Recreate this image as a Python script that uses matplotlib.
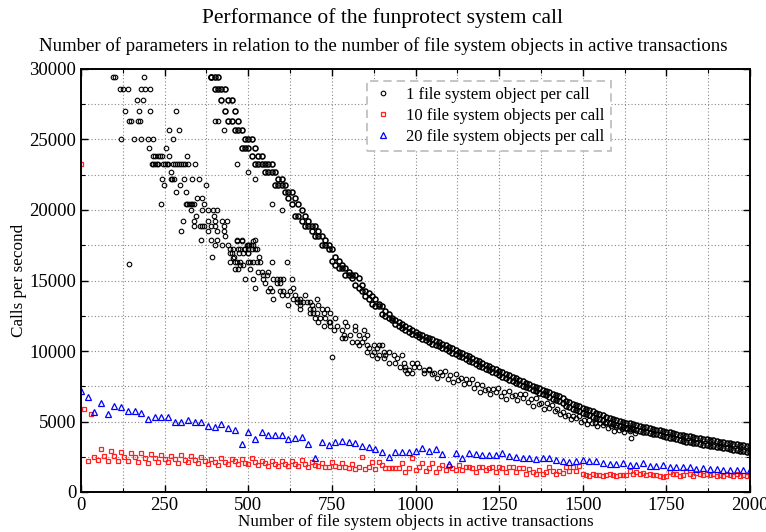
import numpy as np
import matplotlib
matplotlib.use("Agg")
import matplotlib.pyplot as plt
from matplotlib.ticker import MultipleLocator

plt.rcParams['font.family'] = ['Liberation Serif', 'DejaVu Serif']

# ---- 20 file system objects per call (one run every 20 objects) ----
blue_x = np.arange(0, 2001, 20)
blue_y = [7190, 6710, 5700, 6340, 5530, 6100, 6000, 5770, 5770, 5580,
          5150, 5300, 5300, 5300, 4940, 4940, 5080, 4940, 4940, 4680,
          4630, 4820, 4510, 4400, 3400, 4250, 3780, 4230, 4020, 4020,
          4020, 3730, 3800, 3880, 3380, 2390, 3520, 3310, 3520, 3640,
          3570, 3500, 3290, 3210, 3050, 2860, 2500, 2860, 2810, 2810,
          2910, 3100, 2910, 3050, 2670, 1990, 2740, 2430, 2740, 2670,
          2620, 2620, 2620, 2740, 2550, 2460, 2430, 2430, 2340, 2390,
          2390, 2270, 2180, 2100, 2180, 2240, 2180, 2220, 2030, 1990,
          1990, 2030, 1915, 1915, 2080, 1840, 1840, 1915, 1750, 1750,
          1750, 1750, 1610, 1700, 1660, 1660, 1560, 1560, 1560, 1560,
          1560]

# ---- 10 file system objects per call (one run every 10 objects) ----
red_x = np.arange(0, 2001, 10)
red_y = [23256, 5890, 2220, 5510, 2460, 2270, 3030, 2550, 2220, 2930,
         2580, 2220, 2840, 2500, 2200, 2770, 2500, 2150, 2770, 2430,
         2060, 2700, 2390, 2130, 2650, 2360, 2150, 2580, 2340, 2080,
         2650, 2290, 2150, 2530, 2250, 2030, 2480, 2200, 2010, 2360,
         2150, 1940, 2410, 2150, 2010, 2340, 2200, 2010, 2340, 2080,
         1960, 2390, 2100, 1910, 2220, 2030, 1840, 2200, 2010, 1820,
         2220, 1960, 1870, 2200, 1960, 1840, 2250, 1960, 1800, 2150,
         1910, 1840, 2080, 1800, 1750, 2100, 1840, 1750, 2030, 1770,
         1730, 1960, 1630, 1750, 2480, 1630, 1770, 2150, 1630, 2150,
         1910, 1680, 1700, 1700, 1700, 1680, 2080, 1420, 1680, 2430,
         1560, 1750, 2030, 1490, 1680, 2030, 1450, 1680, 1910, 1560,
         1870, 1680, 1560, 1910, 1560, 1750, 1800, 1680, 1450, 1800,
         1800, 1560, 1680, 1750, 1450, 1750, 1680, 1450, 1750, 1800,
         1400, 1680, 1680, 1280, 1610, 1450, 1280, 1560, 1280, 1450,
         1750, 1510, 1280, 1510, 1380, 1750, 1510, 1750, 1510, 1870,
         1280, 1220, 1160, 1280, 1180, 1220, 1160, 1200, 1250, 1200,
         1160, 1200, 1220, 1180, 1510, 1300, 1420, 1250, 1380, 1200,
         1250, 1180, 1200, 1160, 1090, 1140, 1400, 1250, 1300, 1160,
         1200, 1500, 1300, 1160, 1350, 1250, 1200, 1300, 1180, 1250,
         1140, 1220, 1160, 1300, 1200, 1160, 1250, 1120, 1180, 1140,
         1140]

# ---- 1 file system object per call ----
# main (upper) band, upper and lower edge every 10 objects
band_x = np.arange(390, 2001, 10)
band_hi = [29411, 29411, 29411, 28571, 28571, 27778, 27778, 27027, 26316, 25641,
           25000, 25000, 25000, 24390, 23810, 23810, 23256, 23256, 23256, 22727,
           22222, 22222, 21739, 21277, 21277, 20833, 20408, 20000, 19608, 19231,
           18868, 18868, 18519, 18182, 17857, 17544, 17241, 16667, 16393, 16129,
           15873, 15625, 15385, 15385, 15152, 14706, 14286, 14085, 13889, 13699,
           13333, 13158, 12821, 12658, 12346, 12195, 12048, 11905, 11765, 11628,
           11494, 11364, 11236, 11111, 11000, 10940, 10830, 10720, 10620, 10510,
           10410, 10300, 10180, 10070, 9950, 9840, 9720, 9610, 9490, 9380,
           9260, 9150, 9040, 8930, 8820, 8710, 8600, 8490, 8380, 8270,
           8160, 8050, 7950, 7850, 7750, 7650, 7550, 7450, 7350, 7250,
           7150, 7080, 6980, 6890, 6790, 6700, 6470, 6370, 6270, 6170,
           6070, 5980, 5890, 5800, 5710, 5620, 5530, 5440, 5350, 5260,
           5180, 5100, 5040, 4980, 4920, 4860, 4800, 4740, 4690, 4630,
           4580, 4530, 4480, 4430, 4380, 4330, 4270, 4220, 4170, 4120,
           4070, 4040, 4000, 3950, 3910, 3860, 3820, 3780, 3740, 3700,
           3660, 3620, 3580, 3540, 3510, 3470, 3430, 3390, 3360, 3320,
           3290, 3250]
band_lo = [29411, 28571, 28571, 27778, 27027, 26316, 26316, 25641, 25641, 24390,
           24390, 24390, 23810, 23256, 23256, 23256, 22727, 22727, 22727, 21739,
           21739, 21739, 21277, 20833, 20408, 19608, 19608, 19231, 18868, 18868,
           18519, 18182, 18182, 17544, 17544, 17241, 16393, 16129, 15873, 15873,
           15385, 15385, 15152, 14706, 14493, 14286, 13889, 13699, 13333, 13158,
           13158, 12658, 12500, 12346, 12195, 11905, 11765, 11628, 11494, 11364,
           11236, 11111, 10989, 10870, 10750, 10640, 10530, 10420, 10320, 10210,
           10110, 10000, 9880, 9770, 9650, 9540, 9420, 9310, 9190, 9080,
           8960, 8850, 8740, 8630, 8520, 8410, 8300, 8190, 8080, 7970,
           7860, 7750, 7650, 7550, 7450, 7350, 7250, 7150, 7050, 6950,
           6850, 6720, 6620, 6530, 6430, 6340, 6100, 6000, 5900, 5810,
           5710, 5620, 5530, 5440, 5350, 5260, 5170, 5080, 4990, 4900,
           4820, 4740, 4680, 4620, 4560, 4500, 4440, 4390, 4340, 4280,
           4230, 4180, 4130, 4080, 4020, 3970, 3910, 3860, 3810, 3760,
           3710, 3620, 3580, 3530, 3490, 3440, 3400, 3360, 3320, 3280,
           3240, 3200, 3160, 3120, 3090, 3050, 3010, 2970, 2940, 2900,
           2870, 2830]

# sparse measurements below 30000 at small object counts
early_pts = [(95, 29411), (102, 29411), (188, 29411),
             (116, 28571), (126, 28571), (141, 28571), (180, 28571), (190, 28571), (207, 28571),
             (166, 27778), (184, 27778),
             (131, 27027), (174, 27027), (206, 27027), (284, 27027),
             (144, 26316), (150, 26316), (170, 26316), (176, 26316), (400, 26316), (410, 26316),
             (262, 25641), (292, 25641), (427, 25641),
             (120, 25000), (157, 25000), (178, 25000), (201, 25000), (216, 25000), (274, 25000),
             (204, 24390), (255, 24390),
             (216, 23810), (222, 23810), (229, 23810), (236, 23810), (241, 23810), (264, 23810), (318, 23810),
             (211, 23256), (216, 23256), (221, 23256), (226, 23256), (231, 23256), (246, 23256),
             (251, 23256), (256, 23256), (261, 23256), (274, 23256), (280, 23256), (286, 23256),
             (292, 23256), (298, 23256), (304, 23256), (310, 23256), (320, 23256), (341, 23256), (466, 23256),
             (269, 22727), (500, 22727),
             (243, 22222), (269, 22222), (273, 22222), (277, 22222), (308, 22222), (333, 22222),
             (353, 22222), (520, 22222),
             (248, 21739), (295, 21739), (375, 21739),
             (283, 21277), (313, 21277),
             (346, 20833), (361, 20833),
             (239, 20408), (313, 20408), (318, 20408), (323, 20408), (328, 20408), (333, 20408),
             (338, 20408), (368, 20408), (570, 20408),
             (328, 20000), (363, 20000), (381, 20000), (395, 20000), (407, 20000), (600, 20000),
             (343, 19608), (397, 19608),
             (305, 19231), (337, 19231), (380, 19231), (402, 19231), (422, 19231), (437, 19231),
             (337, 18868), (357, 18868), (362, 18868), (367, 18868), (388, 18868), (402, 18868), (427, 18868),
             (300, 18519), (380, 18519), (408, 18519), (428, 18519),
             (431, 18182),
             (359, 17857), (388, 17857), (408, 17857), (467, 17857), (482, 17857), (520, 17857),
             (400, 17544), (423, 17544), (438, 17544), (498, 17544), (508, 17544),
             (453, 17241), (476, 17241), (488, 17241), (498, 17241), (520, 17241),
             (446, 16949), (473, 16949), (498, 16949),
             (393, 16667), (456, 16667), (531, 16667),
             (143, 16170)]

# second (lower) band
lower_pts = [(465, 17825), (480, 17825), (515, 17825),
             (495, 17518), (503, 17518), (515, 17518),
             (445, 17210), (470, 17210), (490, 17210), (510, 17210), (525, 17210),
             (450, 16927), (485, 16927), (500, 16927), (455, 16620),
             (445, 16336), (460, 16336), (465, 16336), (475, 16336), (500, 16336), (505, 16336),
             (515, 16336), (525, 16336), (535, 16336), (570, 16336), (615, 16336),
             (475, 16099), (485, 16099),
             (460, 15792), (470, 15792), (505, 15792),
             (530, 15626), (540, 15626), (560, 15626),
             (545, 15390), (555, 15390),
             (490, 15082), (515, 15082), (545, 15082), (575, 15082), (585, 15082), (595, 15082),
             (605, 15082), (630, 15082),
             (550, 14799), (585, 14799), (595, 14799),
             (520, 14444), (565, 14444), (635, 14444),
             (560, 14279), (570, 14279), (595, 14279), (605, 14279), (625, 14279),
             (600, 13972), (615, 13972), (640, 13972), (670, 13972),
             (575, 13664), (635, 13664), (645, 13664), (655, 13664), (705, 13664),
             (645, 13499), (655, 13499), (665, 13499), (675, 13499), (685, 13499),
             (620, 13262), (655, 13262), (690, 13262), (710, 13262),
             (655, 12955), (685, 12955), (695, 12955), (720, 12955), (735, 12955),
             (685, 12671), (695, 12671), (705, 12671), (725, 12671), (745, 12671),
             (700, 12317), (715, 12317), (730, 12317), (760, 12317),
             (710, 12080), (740, 12080), (745, 12080), (790, 12080),
             (725, 11773), (745, 11773), (765, 11773), (795, 11773), (820, 11773),
             (755, 11489), (780, 11489), (820, 11489), (845, 11489),
             (785, 11135), (805, 11135), (830, 11135), (855, 11135),
             (780, 10898), (790, 10898), (845, 10898),
             (810, 10662), (825, 10662), (840, 10662),
             (830, 10425), (855, 10425), (875, 10425), (890, 10425), (900, 10425),
             (860, 10189), (885, 10189),
             (855, 9953), (875, 9953), (905, 9953), (920, 9953),
             (870, 9716), (890, 9716), (910, 9716), (935, 9716), (960, 9716),
             (885, 9480), (905, 9480), (945, 9480),
             (920, 9125), (940, 9125), (965, 9125), (990, 9125), (1005, 9125),
             (955, 8889), (970, 8889), (995, 8889), (1010, 8889),
             (970, 8653), (980, 8653), (1025, 8653), (1040, 8653),
             (975, 8416), (990, 8416), (1025, 8416),
             (1040, 8750), (1048, 8360), (1056, 8470), (1064, 8100), (1072, 8510), (1080, 8270),
             (1088, 8570), (1096, 8000), (1104, 8270), (1112, 7780), (1120, 8340), (1128, 7950),
             (1136, 8060), (1144, 7690), (1152, 8010), (1160, 7730), (1168, 8000), (1176, 7400),
             (1184, 7630), (1192, 7100), (1200, 7600), (1208, 7200), (1216, 7300), (1224, 6920),
             (1232, 7330), (1240, 7080), (1248, 7380), (1256, 6830), (1264, 7100), (1272, 6610),
             (1280, 7180), (1288, 6790), (1296, 6910), (1304, 6540), (1312, 6940), (1320, 6680),
             (1328, 6960), (1336, 6390), (1344, 6630), (1352, 6110), (1360, 6650), (1368, 6230),
             (1376, 6310), (1384, 5920), (1392, 6310), (1400, 5980), (1408, 6140), (1416, 5760),
             (1424, 5880), (1432, 5550), (1440, 5680), (1448, 5410), (1456, 5440), (1464, 5180),
             (1472, 5400), (1480, 5220), (1488, 5360), (1496, 5000), (1504, 5130), (1512, 4820),
             (1520, 5120), (1528, 4860), (1536, 4900), (1544, 4650), (1552, 4890), (1560, 4720),
             (1568, 4870), (1576, 4530), (1584, 4650), (1592, 4360), (1600, 4640), (1608, 4420),
             (1616, 4480), (1624, 4260), (1632, 4500), (1640, 4360), (1648, 4520), (1656, 4200),
             (749, 9600), (1643, 3850)]

early_x, early_y = zip(*early_pts)
lower_x, lower_y = zip(*lower_pts)
sparse_x = np.concatenate([early_x, lower_x])
sparse_y = np.concatenate([early_y, lower_y])

fig = plt.figure(figsize=(7.66, 5.32), dpi=100)
ax = fig.add_axes([81 / 766, 40 / 532, 669 / 766, 423 / 532])

# dense band drawn a little heavier, as the overlapping circles merge in the original
ax.plot(np.concatenate([band_x, band_x]), np.concatenate([band_hi, band_lo]), 'o',
        ms=3.6, mfc='none', mec='black', mew=1.15)
ax.plot(sparse_x, sparse_y, 'o', ms=3.3, mfc='none', mec='black', mew=0.8,
        label='1 file system object per call')
ax.plot(red_x, red_y, 's', ms=3.0, mfc='none', mec='#ff2020', mew=0.9,
        label='10 file system objects per call')
ax.plot(blue_x, blue_y, '^', ms=4.2, mfc='none', mec='#0000ff', mew=0.9,
        label='20 file system objects per call')

ax.set_xlim(0, 2000)
ax.set_ylim(0, 30000)
ax.xaxis.set_major_locator(MultipleLocator(250))
ax.xaxis.set_minor_locator(MultipleLocator(125))
ax.yaxis.set_major_locator(MultipleLocator(5000))
ax.yaxis.set_minor_locator(MultipleLocator(2500))
ax.grid(True, which='both', color='#888888', linestyle=(0, (1, 2)), linewidth=0.8)
ax.set_axisbelow(True)
ax.tick_params(which='both', direction='in', top=True, right=True, labelsize=13.5)
ax.tick_params(which='major', length=5, width=1, pad=3.5)
ax.tick_params(which='minor', length=3, width=0.8)
for s in ax.spines.values():
    s.set_linewidth(1.4)

ax.set_xlabel('Number of file system objects in active transactions', fontsize=12.3)
ax.set_ylabel('Calls per second', fontsize=12.3)
ax.xaxis.set_label_coords(0.5, -0.052)
ax.yaxis.set_label_coords(-0.08, 0.5)

fig.text(0.5, 1 - 18 / 532, 'Performance of the funprotect system call',
         ha='center', va='center', fontsize=15.5)
fig.text(0.5, 1 - 46 / 532,
         'Number of parameters in relation to the number of file system objects in active transactions',
         ha='center', va='center', fontsize=13.5)

leg = ax.legend(loc='upper left', bbox_to_anchor=(0.4155, 0.9915), fontsize=12,
                fancybox=False, framealpha=1, edgecolor='#bbbbbb',
                handlelength=1.2, handletextpad=0.8, borderpad=0.35, labelspacing=0.3)
leg.get_frame().set_linestyle((0, (5, 3)))
leg.get_frame().set_linewidth(1.2)

fig.savefig('out.png', dpi=100)
